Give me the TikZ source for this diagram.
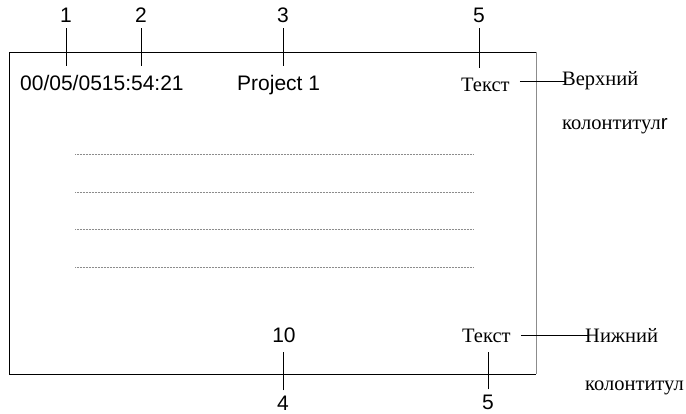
\documentclass[tikz,border=0pt]{standalone}
\usepackage{fontspec}
\setmainfont{Liberation Serif}
\setsansfont{Liberation Sans}
\usetikzlibrary{positioning, calc}

\begin{document}
\begin{tikzpicture}[
    x=1pt, y=-1pt,
    num/.style = {font=\sffamily\fontsize{21}{22}\selectfont, inner sep=5pt},
    field/.style = {font=\sffamily\fontsize{21}{22}\selectfont, inner sep=10pt},
    cyr/.style = {font=\fontsize{20.5}{22}\selectfont, inner sep=10pt},
    side/.style = {font=\fontsize{20.5}{22}\selectfont, inner sep=0pt, anchor=base west},
    tick/.style = {draw=black, line width=0.8pt},
    rule/.style = {draw=black!45, line width=0.5pt, densely dotted},
]
\useasboundingbox (0,0) rectangle (686,414);

% Page frame
\draw[line width=0.8pt] (536,52) -- (9,52) -- (9,374) -- (536,374);
\draw[line width=0.8pt, black!45] (536,52) -- (536,374);

% Header fields
\node [field, anchor=base west] (hdate) at (10,91) {00/05/0515:54:21};
\node [field, anchor=base west] (proj) at (227,91) {Project 1};
\node [cyr, anchor=base west] (htext) at (451,92) {Текст};

% Footer fields
\node [field, anchor=base] (pnum) at (284,342) {10};
\node [cyr, anchor=base west] (ftext) at (452,342) {Текст};

% Numbers
\node [num, anchor=base] (n1) at (66,23) {1};
\node [num, anchor=base] (n2) at (141,23) {2};
\node [num, anchor=base] (n3) at (283,23) {3};
\node [num, anchor=base] (n5t) at (479,23) {5};
\node [num, anchor=base] (n4) at (283,410) {4};
\node [num, anchor=base] (n5b) at (488,409) {5};

% Side labels
\node [side] (vh) at (562,86) {Верхний};
\node [side] (vk) at (562,130) {колонтитул{\sffamily r}};
\node [side] (nh) at (585,342) {Нижний};
\node [side] (nk) at (585,390) {колонтитул};

% Body lines
\foreach \y in {154,192,229,267}
    \draw [rule] (75,\y) -- (473,\y);

% Leaders
\path [tick] (n1.south) -- (n1.south |- hdate.north);
\path [tick] (n2.south) -- (n2.south |- hdate.north);
\path [tick] (n3.south) -- (n3.south |- proj.north);
\path [tick] (n5t.south) -- (n5t.south |- htext.north);
\path [tick] (n4.north) -- (n4.north |- pnum.south);
\path [tick] (n5b.north) -- (n5b.north |- ftext.south);
\path [tick, shorten >=-3pt] (htext.east |- vh.west) -- (vh.west);
\path [tick, shorten >=-3pt] (ftext.east |- nh.west) -- (nh.west);

\end{tikzpicture}
\end{document}
